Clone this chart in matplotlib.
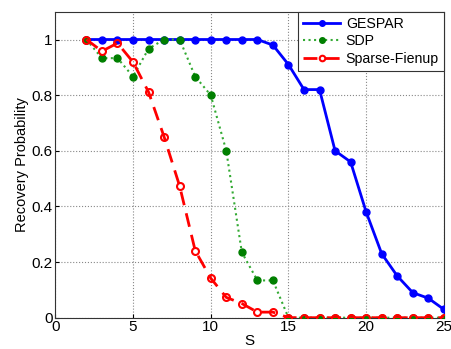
import matplotlib
matplotlib.use("Agg")
import matplotlib.pyplot as plt
import numpy as np

plt.rcParams['font.family'] = ['Liberation Sans', 'DejaVu Sans']

s = list(range(2, 26))
gespar = [1, 1, 1, 1, 1, 1, 1, 1, 1, 1, 1, 1, 0.98, 0.91, 0.82, 0.82, 0.60, 0.56,
          0.38, 0.23, 0.15, 0.09, 0.07, 0.03]
sdp = [1, 0.933, 0.933, 0.867, 0.967, 1, 1, 0.867, 0.80, 0.60, 0.235, 0.134, 0.134,
       0, 0, 0, 0, 0, 0, 0, 0, 0, 0, 0]
fienup = [1, 0.958, 0.987, 0.919, 0.811, 0.65, 0.473, 0.241, 0.142, 0.073, 0.051,
          0.02, 0.02, 0, 0, 0, 0, 0, 0, 0, 0, 0, 0, 0]

xticks = [0, 5, 10, 15, 20, 25]
yticks = [0, 0.2, 0.4, 0.6, 0.8, 1]
yticklabels = ['0', '0.2', '0.4', '0.6', '0.8', '1']

fig = plt.figure(figsize=(4.52, 3.49), dpi=100)
ax = fig.add_axes([0.1224, 0.0897, 0.982 - 0.1224, 0.9665 - 0.0897])

ax.plot(s, gespar, color='#0000ff', lw=2, marker='o', ms=5, mfc='#0000ff',
        mec='#0000ff', label='GESPAR', zorder=3)
ax.plot(s, sdp, color='#33aa33', lw=1.5, ls=':', marker='o', ms=5, mfc='#007f00',
        mec='#007f00', label='SDP', zorder=4)
ax.plot(s, fienup, color='#ff0000', lw=2, ls=(0, (5, 3)), marker='o', ms=5,
        mfc='none', mec='#ff0000', mew=1.5, label='Sparse-Fienup', zorder=5)

ax.set_xlim(0, 25)
ax.set_ylim(0, 1.1)
ax.set_xticks(xticks)
ax.set_yticks(yticks)
ax.set_yticklabels(yticklabels)
ax.tick_params(direction='in', labelsize=11, length=3, pad=2)
ax.grid(True, ls=':', color='#888888', lw=0.8)
ax.set_axisbelow(True)
for sp in ax.spines.values():
    sp.set_color('#333333')
ax.set_xlabel('S', fontsize=11, labelpad=0)
ax.set_ylabel('Recovery Probability', fontsize=10.5, labelpad=2)

leg = ax.legend(loc='upper right', borderaxespad=0, fontsize=10.2, fancybox=False,
                framealpha=1, edgecolor='#333333', handlelength=2.6,
                borderpad=0.35, labelspacing=0.25, handletextpad=0.4,
                markerscale=0.8)
leg.get_frame().set_linewidth(0.8)

fig.savefig('out.png', dpi=100)
